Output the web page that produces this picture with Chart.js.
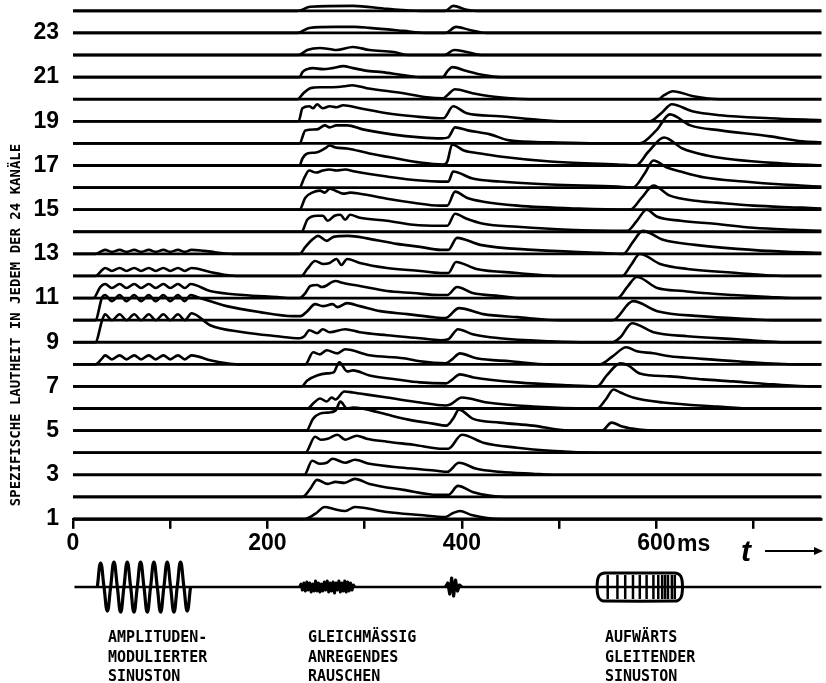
<!DOCTYPE html>
<html><head><meta charset="utf-8">
<script src="https://cdn.jsdelivr.net/npm/chart.js@4/dist/chart.umd.min.js"></script>
<style>
html,body{margin:0;padding:0;background:#fff;}
#wrap{position:relative;width:826px;height:683px;overflow:hidden;}
canvas{position:absolute;left:0;top:0;}
.lbl{position:absolute;font-family:"DejaVu Sans Mono",monospace;font-weight:bold;font-size:15px;line-height:19.5px;color:#000;white-space:nowrap;}
.ax{position:absolute;font-family:"Liberation Sans",Arial,sans-serif;font-weight:bold;font-size:23px;line-height:24px;color:#000;}
.t{position:absolute;font-family:"Liberation Sans","DejaVu Sans",sans-serif;font-style:italic;font-weight:bold;font-size:30px;line-height:30px;color:#000;}
.arrow{position:absolute;left:765px;top:550px;width:52px;border-top:2px solid #000;}
.arrowhead{position:absolute;left:814px;top:547px;width:0;height:0;border-top:4px solid transparent;border-bottom:4px solid transparent;border-left:9px solid #000;}
</style></head><body>
<div id="wrap">
<canvas id="c" width="826" height="683"></canvas>
<div class="ax" style="left:677px;top:531px">ms</div>
<div class="t" style="left:741px;top:536px">t</div>
<div class="arrow"></div><div class="arrowhead"></div>
<div class="lbl" style="left:108px;top:628px">AMPLITUDEN-<br>MODULIERTER<br>SINUSTON</div>
<div class="lbl" style="left:308px;top:628px">GLEICHMÄSSIG<br>ANREGENDES<br>RAUSCHEN</div>
<div class="lbl" style="left:605px;top:628px">AUFWÄRTS<br>GLEITENDER<br>SINUSTON</div>
</div>
<script>
// ---- axis data ----
const channelTickLabels = [1,3,5,7,9,11,13,15,17,19,21,23];
const timeTicks = [0,100,200,300,400,500,600,700];
const timeTickLabels = {0:'0',200:'200',400:'400',600:'600'};
const timeMax = 770;
const yAxisTitle = 'SPEZIFISCHE LAUTHEIT IN JEDEM DER 24 KANÄLE';

// ---- specific loudness per channel: [time ms, loudness (arbitrary units, 22 = one channel step)] ----
const ch01 = [[0,0],[238,0],[249,5],[259,12],[268,10],[280,8],[290,12],[300,11],[323,7],[357,4],[383,2],[391,6],[398,8],[410,4],[440,0],[770,0]];
const ch02 = [[0,0],[236,0],[244,8],[251,17],[262,13],[270,15],[279,14],[290,18],[305,13],[340,7],[375,2],[386,2],[396,11],[411,5],[430,1],[450,0],[770,0]];
const ch03 = [[0,0],[238,0],[246,14],[254,11],[261,12],[267,16],[280,12],[290,15],[305,11],[340,7],[374,4],[385,3],[397,12],[415,6],[439,3],[473,1],[495,0],[770,0]];
const ch04 = [[0,0],[239,0],[249,16],[255,13],[262,14],[272,18],[280,13],[292,17],[302,14],[323,11],[350,8],[381,4],[386,4],[400,18],[422,10],[457,5],[491,2],[540,0],[770,0]];
const ch05 = [[0,0],[240,0],[247,12],[254,17],[262,18],[270,20],[275,29],[282,22],[288,23],[298,22],[323,16],[345,11],[370,7],[384,5],[391,12],[397,21],[411,12],[439,8],[473,5],[510,0],[544,0],[554,8],[565,4],[582,1],[600,0],[770,0]];
const ch06 = [[0,0],[241,0],[248,6],[254,10],[261,7],[266,11],[270,9],[279,17],[288,16],[295,15],[323,11],[357,6],[383,3],[388,4],[400,11],[426,6],[473,2],[530,0],[539,0],[548,9],[556,19],[563,16],[576,11],[607,6],[663,2],[700,0],[770,0]];
const ch07 = [[0,0],[235,0],[241,6],[251,11],[261,13],[268,14],[274,24],[282,15],[288,16],[305,11],[333,7],[357,4],[384,3],[389,6],[398,12],[412,9],[457,4],[510,1],[539,0],[549,11],[563,23],[571,21],[583,13],[614,10],[648,7],[679,5],[720,2],[760,0],[770,0]];
const ch08 = [[0,0],[23,0],[30,6],[33,9],[40,5],[48,9],[55,5],[63,9],[70,5],[78,9],[85,5],[93,9],[100,5],[108,9],[115,5],[122,9],[141,4],[158,1],[170,0],[239,0],[247,12],[254,10],[261,14],[272,11],[280,15],[305,9],[340,6],[357,3],[383,1],[390,5],[398,11],[415,6],[450,3],[490,0],[542,0],[555,8],[569,17],[580,13],[597,11],[614,8],[640,6],[683,3],[745,0],[770,0]];
const ch09 = [[0,0],[23,0],[30,22],[33,28],[40,22],[48,28],[55,22],[63,28],[70,22],[78,28],[85,22],[93,28],[100,22],[108,28],[115,22],[122,29],[141,17],[175,10],[210,6],[233,4],[238,6],[243,12],[251,9],[257,13],[264,10],[280,13],[295,10],[323,7],[357,4],[378,2],[386,3],[396,13],[411,8],[439,4],[491,1],[530,0],[555,0],[563,5],[575,19],[597,10],[632,6],[683,3],[735,0],[770,0]];
const ch10 = [[0,0],[23,0],[30,23],[33,25],[40,19],[48,25],[55,19],[63,25],[70,19],[78,25],[85,19],[93,25],[100,19],[108,25],[115,19],[121,25],[131,22],[158,14],[192,8],[226,4],[234,4],[241,9],[249,16],[257,14],[267,16],[272,13],[282,17],[295,14],[316,9],[344,6],[370,3],[383,2],[397,12],[422,6],[457,3],[500,0],[555,0],[576,19],[601,9],[645,4],[697,1],[720,0],[770,0]];
const ch11 = [[0,0],[21,0],[28,11],[33,14],[40,10],[48,14],[55,10],[63,14],[70,10],[78,14],[85,10],[93,14],[100,10],[108,14],[115,10],[121,14],[141,7],[175,3],[210,1],[225,0],[233,0],[239,5],[244,12],[251,13],[256,11],[270,17],[278,15],[295,12],[323,7],[350,5],[377,3],[385,3],[395,11],[411,5],[439,2],[460,0],[560,0],[570,11],[580,21],[601,10],[628,7],[648,5],[679,3],[717,1],[740,0],[770,0]];
const ch12 = [[0,0],[23,0],[30,6],[33,8],[40,5],[48,8],[55,5],[63,8],[70,5],[78,8],[85,5],[93,8],[100,5],[108,8],[115,5],[122,8],[141,4],[158,1],[170,0],[235,0],[241,7],[249,15],[257,12],[264,13],[271,17],[276,11],[282,17],[295,13],[323,8],[357,5],[378,3],[386,3],[394,14],[415,7],[457,3],[500,0],[565,0],[574,11],[583,22],[604,12],[632,7],[683,3],[730,0],[770,0]];
const ch13 = [[0,0],[23,0],[30,3],[33,4],[40,2],[48,4],[55,2],[63,4],[70,2],[78,4],[85,2],[93,4],[100,2],[108,4],[115,2],[122,4],[135,3],[165,0],[233,0],[239,7],[247,15],[252,18],[261,13],[268,17],[283,18],[305,15],[333,10],[357,7],[378,4],[386,4],[395,16],[419,9],[473,4],[542,1],[566,0],[576,12],[586,23],[607,14],[640,9],[683,5],[735,2],[770,1]];
const ch14 = [[0,0],[235,0],[241,12],[251,16],[257,16],[262,11],[269,16],[275,17],[280,12],[285,17],[295,14],[323,11],[350,7],[377,6],[385,6],[393,18],[405,13],[422,8],[457,5],[510,2],[570,1],[580,11],[590,22],[601,15],[625,11],[660,8],[700,4],[740,2],[770,1]];
const ch15 = [[0,0],[233,0],[239,12],[246,17],[254,19],[259,17],[264,21],[270,19],[278,16],[285,17],[295,16],[323,11],[350,7],[377,4],[385,4],[393,18],[405,12],[422,8],[457,4],[520,1],[573,0],[585,12],[597,24],[614,14],[640,9],[662,7],[700,4],[750,2],[770,1]];
const ch16 = [[0,0],[233,0],[238,10],[243,17],[250,15],[257,17],[264,18],[271,17],[280,18],[290,16],[323,11],[357,7],[378,6],[386,6],[391,16],[411,9],[439,6],[491,3],[560,1],[576,0],[588,14],[597,27],[611,20],[625,16],[650,10],[690,6],[730,3],[770,1]];
const ch17 = [[0,0],[233,0],[236,7],[241,12],[250,13],[259,17],[264,20],[270,18],[282,17],[305,12],[333,7],[357,3],[381,1],[385,4],[390,21],[402,15],[419,12],[439,9],[491,4],[560,1],[579,0],[592,14],[608,28],[627,17],[652,10],[679,6],[730,2],[770,0]];
const ch18 = [[0,0],[233,0],[239,13],[251,14],[259,18],[264,16],[271,18],[282,18],[298,14],[328,9],[357,6],[379,5],[386,6],[393,16],[406,13],[429,9],[449,3],[491,1],[540,0],[583,0],[600,13],[614,29],[635,18],[666,13],[717,7],[750,2],[770,1]];
const ch19 = [[0,0],[232,0],[236,13],[243,15],[247,13],[251,17],[257,13],[264,15],[271,14],[278,16],[295,13],[323,8],[350,5],[377,3],[381,3],[391,15],[405,8],[439,5],[473,2],[505,0],[593,0],[605,8],[616,17],[637,10],[666,6],[717,3],[770,1]];
const ch20 = [[0,0],[231,0],[237,6],[244,11],[254,12],[267,12],[280,13],[287,14],[302,11],[340,6],[364,2],[381,1],[385,4],[393,10],[411,6],[429,3],[450,1],[470,0],[602,0],[608,4],[617,8],[638,3],[665,0],[770,0]];
const ch21 = [[0,0],[233,0],[236,5],[241,8],[247,9],[257,8],[267,9],[278,11],[288,9],[305,6],[318,5],[339,2],[357,0],[380,0],[386,7],[390,10],[405,6],[422,2],[440,0],[770,0]];
const ch22 = [[0,0],[232,0],[241,5],[254,7],[264,6],[271,5],[288,8],[305,5],[330,3],[345,0],[382,0],[392,5],[405,3],[420,0],[770,0]];
const ch23 = [[0,0],[231,0],[243,5],[270,6],[290,6],[305,5],[340,2],[362,0],[383,0],[394,6],[408,3],[425,0],[770,0]];
const ch24 = [[0,0],[231,0],[244,4],[288,5],[323,2],[357,0],[383,0],[391,5],[405,1],[415,0],[770,0]];
const channelLoudness = [ch01,ch02,ch03,ch04,ch05,ch06,ch07,ch08,ch09,ch10,ch11,ch12,ch13,ch14,ch15,ch16,ch17,ch18,ch19,ch20,ch21,ch22,ch23,ch24];
const loudnessPerChannelStep = 22.09;

// ---- stimulus sketch (time ms, amplitude in same units) ----
const amTone = [[25,0],[28.4,24],[31.9,0],[35.3,-24],[38.7,0],[42.1,25],[45.6,0],[49,-25],[52.4,0],[55.8,25],[59.3,0],[62.7,-25],[66.1,0],[69.5,25],[73,0],[76.4,-25],[79.8,0],[83.2,25],[86.7,0],[90.1,-25],[93.5,0],[96.9,25],[100.4,0],[103.8,-25],[107.2,0],[110.6,25],[114.1,0],[117.5,-24],[120.9,0]];
const noiseBurst = [[233,0],[234.5,3],[236,-3],[237.5,4],[239,-4],[240.5,5],[242,-3],[243.5,4],[245,-5],[246.5,3],[248,-4],[249.5,6],[251,-4],[252.5,4],[254,-5],[255.5,3],[257,-4],[258.5,5],[260,-3],[261.5,6],[263,-5],[264.5,4],[266,-4],[267.5,5],[269,-6],[270.5,4],[272,-3],[273.5,6],[275,-5],[276.5,4],[278,-4],[279.5,6],[281,-5],[282.5,5],[284,-4],[285.5,4],[287,-3],[288.5,2],[290,0]];
const shortNoise = [[383,0],[385.5,4],[387.5,-7],[389.5,9],[391.5,-9],[393.5,7],[395.5,-4],[397.5,2],[400,0]];
const glideOutline = [[539,0],[539.6,7],[541,11],[544,13.5],[548,14],[618,14],[622,13.5],[625,11],[626.4,7],[627,0]];
const glideRidges = [550,560,568,576,583,590,597,602,606,609,612,616,619];
const stimulusLevel = -3.08;

// ---- build datasets ----
const black = '#000';
const datasets = [];
const toY = (c, v) => (c - 1) + v / loudnessPerChannelStep;
for (let c = 1; c <= 24; c++) {
  datasets.push({ type:'line', data:[{x:0,y:c-1},{x:timeMax,y:c-1}], borderColor:black, borderWidth:2.8, pointRadius:0, fill:false });
}
channelLoudness.forEach((arr, i) => {
  datasets.push({ type:'line', data: arr.map(([t,v]) => ({x:t, y:toY(i+1, v)})), borderColor:black, borderWidth:2.6, pointRadius:0, fill:false, cubicInterpolationMode:'monotone', borderJoinStyle:'round' });
});
const sY = v => stimulusLevel + v / loudnessPerChannelStep;
datasets.push({ type:'line', data:[{x:1.5,y:stimulusLevel},{x:timeMax,y:stimulusLevel}], borderColor:black, borderWidth:2.5, pointRadius:0 });
datasets.push({ type:'line', data: amTone.map(([t,v]) => ({x:t,y:sY(v)})), borderColor:black, borderWidth:3.2, pointRadius:0, tension:0.45, borderJoinStyle:'round' });
datasets.push({ type:'line', data: noiseBurst.map(([t,v]) => ({x:t,y:sY(v)})), borderColor:black, borderWidth:3, pointRadius:0, borderJoinStyle:'round' });
datasets.push({ type:'line', data: shortNoise.map(([t,v]) => ({x:t,y:sY(v)})), borderColor:black, borderWidth:3.2, pointRadius:0, borderJoinStyle:'round' });
datasets.push({ type:'line', data: glideOutline.map(([t,v]) => ({x:t,y:sY(v)})), borderColor:black, borderWidth:3, pointRadius:0, tension:0.4 });
datasets.push({ type:'line', data: glideOutline.map(([t,v]) => ({x:t,y:sY(-v)})), borderColor:black, borderWidth:3, pointRadius:0, tension:0.4 });
datasets.push({ type:'scatter', data: glideRidges.map(t => ({x:t,y:stimulusLevel})), showLine:false, pointStyle:'line', rotation:90, pointRadius:12, pointHoverRadius:12, borderColor:black, pointBorderWidth:2.5, borderWidth:2.5 });

const tickFont = { family:'"Liberation Sans",Arial,sans-serif', size:23, weight:'bold' };
const chartTop = 23.49, chartBottom = -5.93;
new Chart(document.getElementById('c'), {
  type:'line',
  data:{ datasets },
  options:{
    responsive:false, animation:false, events:[],
    layout:{ autoPadding:false, padding:{ left:0, right:4.4, top:0, bottom:33 } },
    plugins:{ legend:{display:false}, tooltip:{enabled:false} },
    scales:{
      x:{
        type:'linear', min:0, max:timeMax, position:{ y:0 },
        afterBuildTicks: s => { s.ticks = timeTicks.map(v => ({value:v})); },
        afterFit: s => { s.paddingLeft = 0; s.paddingRight = 0; },
        ticks:{ autoSkip:false, maxRotation:0, padding:3, color:black, font:tickFont,
          callback: v => (timeTickLabels[v] !== undefined ? timeTickLabels[v] : '') },
        grid:{ drawOnChartArea:false, drawTicks:true, tickLength:8, color:black, lineWidth:2.5 },
        border:{ display:true, color:black, width:2.8 }
      },
      y:{
        type:'linear', min:chartBottom, max:chartTop,
        afterBuildTicks: s => { s.ticks = channelTickLabels.map(c => ({value:c-1})); },
        afterFit: s => { s.width = 73; s.paddingTop = 0; s.paddingBottom = 0; },
        ticks:{ padding:6, color:black, font:tickFont,
          callback: v => String(Math.round(v) + 1) },
        grid:{ display:false },
        border:{ display:false },
        title:{ display:true, text:yAxisTitle, color:black, padding:{top:8,bottom:0},
          font:{ family:'"DejaVu Sans Mono",monospace', size:14, weight:'bold' } }
      }
    }
  }
});
</script>
</body></html>
